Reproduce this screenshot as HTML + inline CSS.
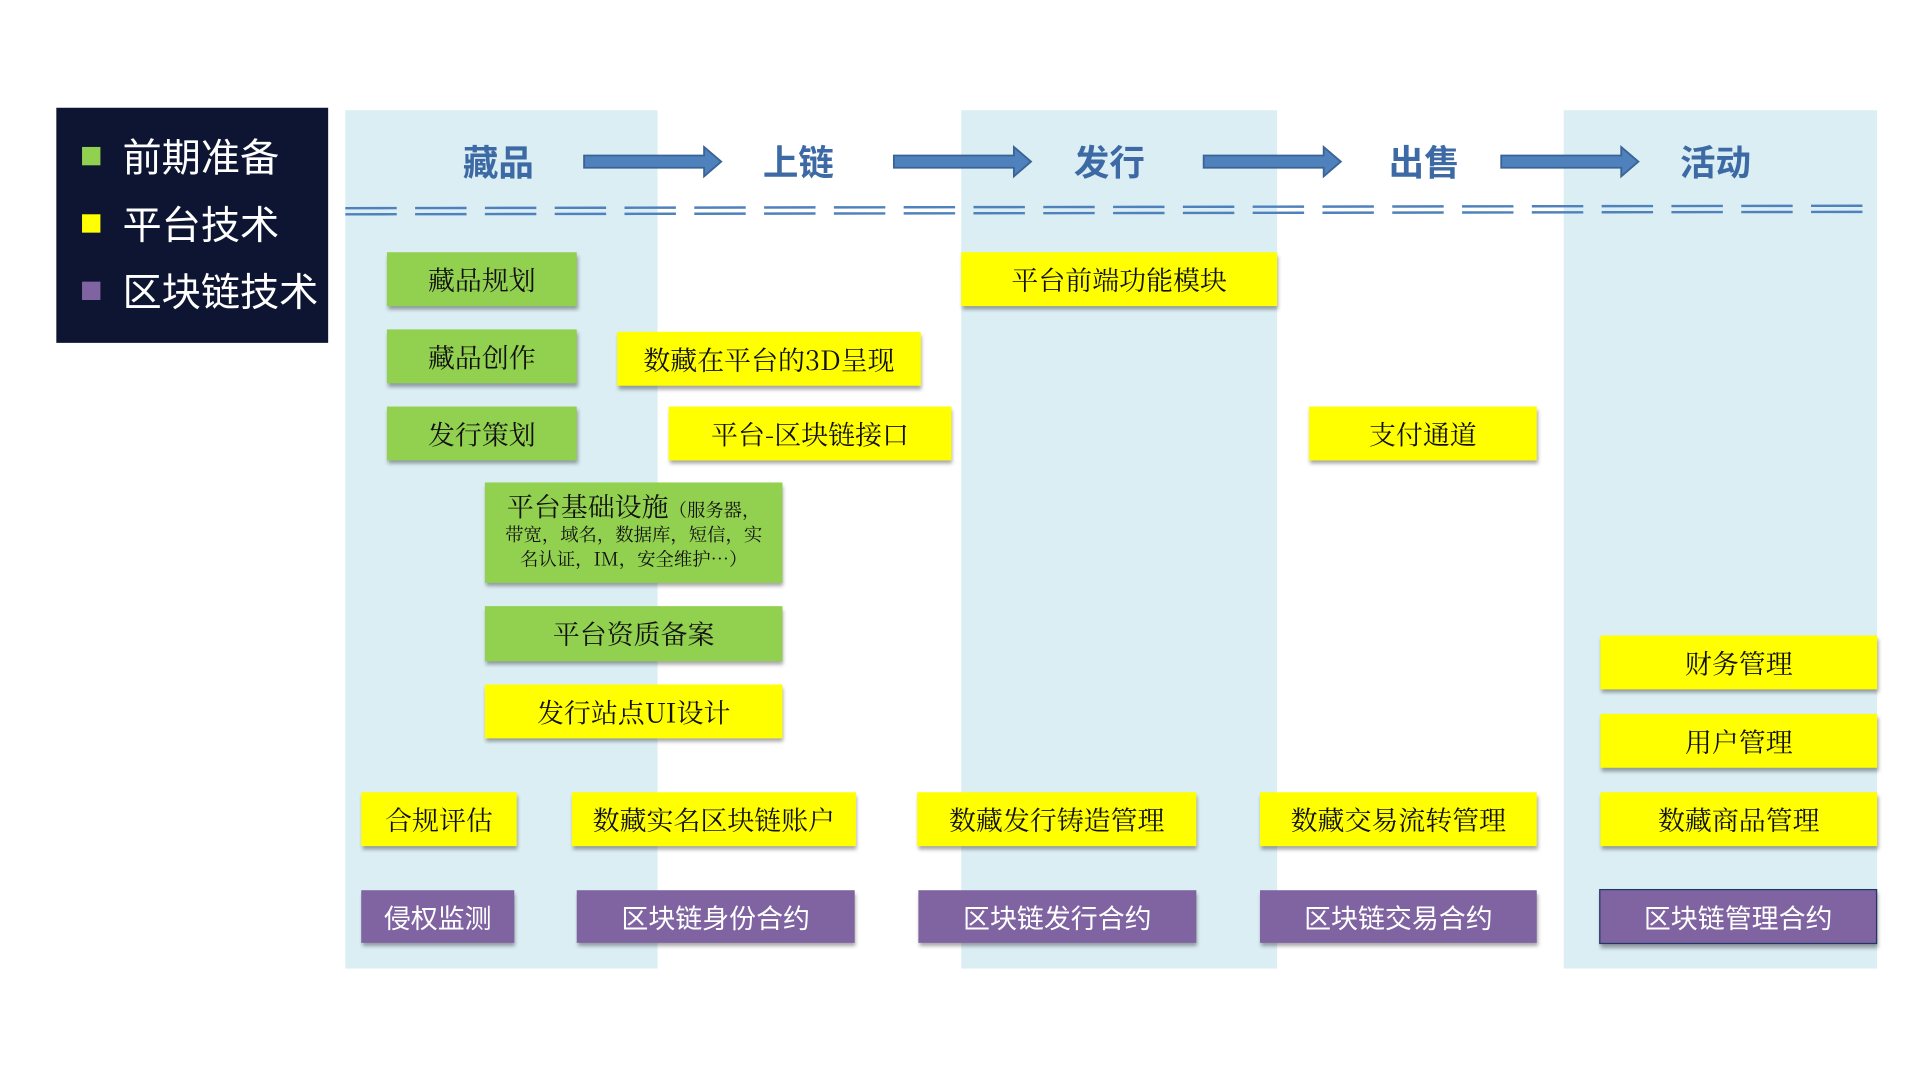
<!DOCTYPE html>
<html><head><meta charset="utf-8"><style>
html,body{margin:0;padding:0;background:#fff;width:1920px;height:1080px;overflow:hidden}
#s{position:absolute;left:0;top:0;width:1568px;height:882px;transform:scale(1.2245);transform-origin:0 0;font-family:"Liberation Sans","Noto Sans CJK SC",sans-serif}
.col{position:absolute;top:90px;height:701px;background:#dbeef4}
.b{position:absolute;display:flex;align-items:center;justify-content:center;font-family:"Noto Serif CJK SC","Noto Sans CJK SC",serif;font-size:22px;color:#111;box-shadow:1px 3px 3px rgba(0,0,0,.35)}
.g{background:#92d050}.y{background:#ffff00}.p{background:#8064a2;color:#fff;font-family:"Noto Sans CJK SC",sans-serif}
.h{position:absolute;top:110px;font-size:29px;font-weight:bold;color:#3d6aa4;font-family:"Noto Sans CJK SC",sans-serif;transform:translateX(-50%)}
.leg{position:absolute;left:46px;top:88px;width:222px;height:192px;background:#0d1533}
.li{position:absolute;left:54px;color:#fff;font-size:32px;font-family:"Noto Sans CJK SC",sans-serif;line-height:40px}
.sq{position:absolute;left:21px;width:15px;height:15px}
</style></head><body><div id="s">
<div class="leg">
<div class="sq" style="top:32px;background:#92d050"></div><div class="li" style="top:19px">前期准备</div>
<div class="sq" style="top:87px;background:#ffff00"></div><div class="li" style="top:74px">平台技术</div>
<div class="sq" style="top:142px;background:#8064a2"></div><div class="li" style="top:129px">区块链技术</div>
</div>
<div class="col" style="left:282px;width:255px"></div>
<div class="col" style="left:785px;width:258px"></div>
<div class="col" style="left:1277px;width:256px"></div>
<div class="h" style="left:407px">藏品</div>
<div class="h" style="left:652px">上链</div>
<div class="h" style="left:906px">发行</div>
<div class="h" style="left:1163px">出售</div>
<div class="h" style="left:1401px">活动</div>
<svg style="position:absolute;left:0;top:0" width="1568" height="882">
<g fill="#4f81bd" stroke="#3a6496" stroke-width="1.5">
<path d="M477 127h98v-7l14 12-14 12v-7h-98z"/>
<path d="M730 127h98v-7l14 12-14 12v-7h-98z"/>
<path d="M983 127h98v-7l14 12-14 12v-7h-98z"/>
<path d="M1226 127h98v-7l14 12-14 12v-7h-98z"/>
</g>
<g stroke="#4f81bd" stroke-width="2" stroke-dasharray="42 15">
<line x1="282" y1="170" x2="1530" y2="168"/>
<line x1="282" y1="175" x2="1530" y2="173"/>
</g>
</svg>
<div class="b g" style="left:316px;top:206px;width:155px;height:44px">藏品规划</div>
<div class="b g" style="left:316px;top:269px;width:155px;height:44px">藏品创作</div>
<div class="b g" style="left:316px;top:332px;width:155px;height:44px">发行策划</div>
<div class="b y" style="left:785px;top:206px;width:258px;height:44px">平台前端功能模块</div>
<div class="b y" style="left:504px;top:271px;width:248px;height:44px">数藏在平台的3D呈现</div>
<div class="b y" style="left:546px;top:332px;width:231px;height:44px">平台-区块链接口</div>
<div class="b y" style="left:1069px;top:332px;width:186px;height:44px">支付通道</div>
<div class="b g" style="left:396px;top:394px;width:243px;height:82px;flex-direction:column;font-size:15px;line-height:20px;text-align:center"><div><span style="font-size:22px">平台基础设施</span>（服务器，</div><div>带宽，域名，数据库，短信，实</div><div>名认证，IM，安全维护…）</div></div>
<div class="b g" style="left:396px;top:495px;width:243px;height:45px">平台资质备案</div>
<div class="b y" style="left:396px;top:559px;width:243px;height:44px">发行站点UI设计</div>
<div class="b y" style="left:1307px;top:519px;width:226px;height:44px">财务管理</div>
<div class="b y" style="left:1307px;top:583px;width:226px;height:44px">用户管理</div>
<div class="b y" style="left:295px;top:647px;width:127px;height:44px">合规评估</div>
<div class="b y" style="left:467px;top:647px;width:232px;height:44px">数藏实名区块链账户</div>
<div class="b y" style="left:749px;top:647px;width:228px;height:44px">数藏发行铸造管理</div>
<div class="b y" style="left:1029px;top:647px;width:226px;height:44px">数藏交易流转管理</div>
<div class="b y" style="left:1307px;top:647px;width:226px;height:44px">数藏商品管理</div>
<div class="b p" style="left:295px;top:727px;width:125px;height:43px">侵权监测</div>
<div class="b p" style="left:471px;top:727px;width:227px;height:43px">区块链身份合约</div>
<div class="b p" style="left:750px;top:727px;width:227px;height:43px">区块链发行合约</div>
<div class="b p" style="left:1029px;top:727px;width:226px;height:43px">区块链交易合约</div>
<div class="b p" style="left:1306px;top:726px;width:225px;height:43px;border:1px solid #1f3864">区块链管理合约</div>
</div></body></html>
